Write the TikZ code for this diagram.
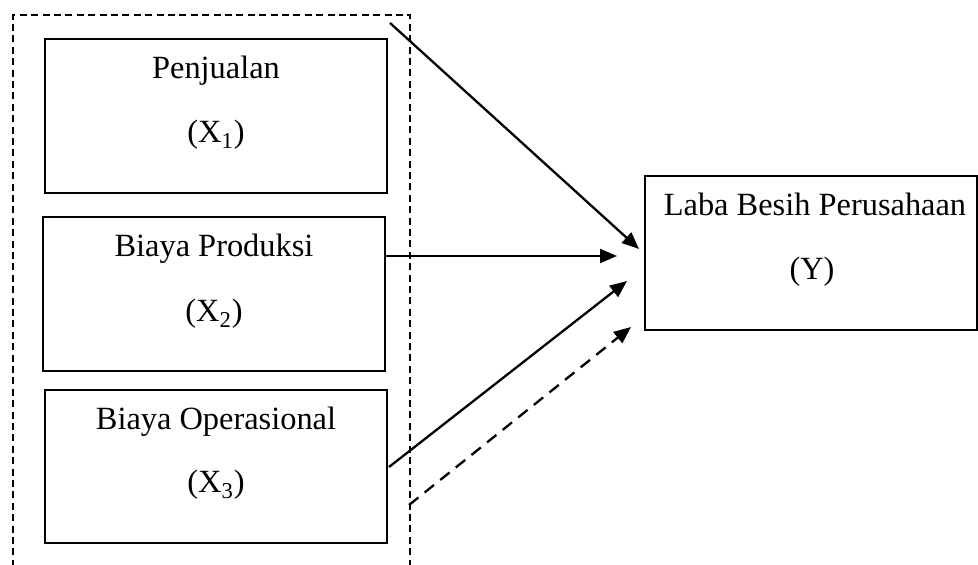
\documentclass[tikz,border=0pt]{standalone}
\usepackage{fontspec}
\setmainfont{Liberation Serif}
\usetikzlibrary{arrows.meta}
\tikzstyle{varBox}=[shape = rectangle, draw, line width = 0.9pt, minimum width = 171pt, minimum height = 77pt, inner sep = 0pt]
\tikzstyle{groupBox}=[shape = rectangle, draw, line width = 0.7pt, dash pattern = on 3.5pt off 2.2pt, inner sep = 0pt]
\tikzstyle{labelText}=[anchor = base, inner sep = 0pt, font = \fontsize{16.2}{19}\selectfont]
\tikzstyle{arrowStyle}=[line width = 1.15pt, -{Triangle[length = 8.5pt, width = 7pt]}]

\begin{document}
\begin{tikzpicture}[x = 0.5pt, y = -0.5pt]
\useasboundingbox (0,0) rectangle (978,565);
% dashed group round the three variables
\node[groupBox, minimum width = 198.5pt, minimum height = 282.5pt] (grp) at (211.5,297.5) {};
% independent variables
\node[varBox] (x1) at (216,116) {};
\node[varBox] (x2) at (214,294) {};
\node[varBox, minimum height = 76.5pt] (x3) at (216,466.5) {};
\node[labelText] (x1a) at (216,79) {Penjualan};
\node[labelText] (x1b) at (216,143) {(X\textsubscript{1})};
\node[labelText] (x2a) at (214,257) {Biaya Produksi};
\node[labelText] (x2b) at (214,322) {(X\textsubscript{2})};
\node[labelText] (x3a) at (216,430) {Biaya Operasional};
\node[labelText] (x3b) at (216,493) {(X\textsubscript{3})};
% dependent variable
\node[varBox, minimum width = 166pt] (y) at (811,253) {};
\node[labelText] (ya) at (815,216) {Laba Besih Perusahaan};
\node[labelText] (yb) at (812,280) {(Y)};
% arrow ends
\coordinate (s1) at (390,23);
\coordinate (t1) at (639,249);
\coordinate (s2) at (386,256);
\coordinate (t2) at (617,256);
\coordinate (s3) at (389,467);
\coordinate (t3) at (627,281);
\coordinate (s4) at (409,505);
\coordinate (t4) at (631,327);
\draw[arrowStyle] (s1) -- (t1);
\draw[arrowStyle] (s2) -- (t2);
\draw[arrowStyle] (s3) -- (t3);
\draw[arrowStyle, dash pattern = on 6pt off 4pt] (s4) -- (t4);
\end{tikzpicture}
\end{document}
